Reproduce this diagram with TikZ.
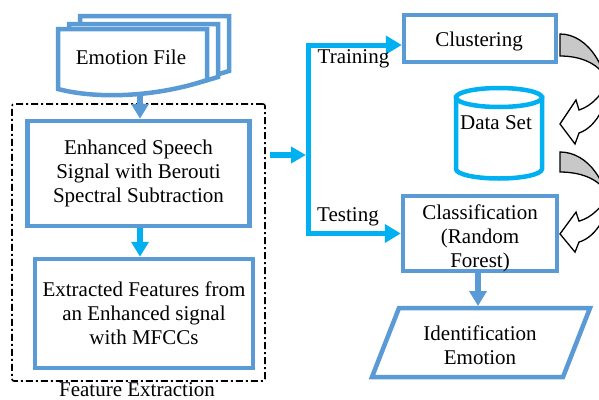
\documentclass[tikz,border=0pt]{standalone}
\usepackage{fontspec}
\setmainfont{Liberation Serif}
\usetikzlibrary{arrows.meta}
\definecolor{boxblue}{HTML}{5B9BD5}
\definecolor{linecyan}{HTML}{00B0F0}
\definecolor{bandgray}{HTML}{C8C8C8}
\tikzset{
  % curved arrow: grey back band leaving the upper box, white front band with head pointing left
  curvedarrow/.pic={
    \draw[band, fill=bandgray] (0,0) .. controls (28,0) and (50,34) .. (50,76)
      -- (46,44) .. controls (38,29) and (20,22) .. (0,22) -- cycle;
    \draw[band, fill=white] (50,46) .. controls (42,60) and (32,72) .. (19,76)
      -- (16,66) -- (0,90) -- (15,110) -- (19,99)
      .. controls (28,96) and (36,88) .. (42,76) -- cycle;
  }
}
\begin{document}
\begin{tikzpicture}[x=1pt,y=-1pt,
  every node/.style={font=\fontsize{21}{24}\selectfont},
  outline/.style={draw=boxblue,line width=4.5pt},
  box/.style={outline,fill=white,inner sep=0pt,align=center},
  txt/.style={inner sep=0pt,align=center},
  flow/.style={line width=6pt,-{Triangle[width=17pt,length=15pt]}},
  feed/.style={line width=5pt,draw=linecyan,line join=miter,-{Triangle[width=18pt,length=16pt]}},
  group/.style={draw=black,line width=1.6pt,dash pattern=on 7pt off 3pt on 2pt off 3pt,rounded corners=2pt},
  tank/.style={draw=linecyan,line width=4.5pt},
  band/.style={draw=black,line width=1.3pt,line join=miter}]

\useasboundingbox (0,0) rectangle (599,399);
\fill[white] (0,0) rectangle (599,399);

% feature extraction group
\node[group, minimum width=253pt, minimum height=277pt] (frame) at (138.5,242.5) {};
\node[txt, anchor=base] (grouptitle) at (137,396) {Feature Extraction};

% stacked documents
\draw[outline, fill=white] (80,16) -- (229,16) -- (229,71) .. controls (182,86) and (122,88) .. (80,77) -- cycle;
\draw[outline, fill=white] (69,24) -- (218,24) -- (218,77) .. controls (171,92) and (111,95) .. (69,84) -- cycle;
\draw[outline, fill=white] (58,29) -- (207,29) -- (207,80) .. controls (160,96) and (100,100) .. (58,89) -- cycle;
\node[txt, anchor=base] (doc) at (131,64) {Emotion File};
\coordinate (docbottom) at (140,95);

% processing boxes
\node[box, minimum width=222pt, minimum height=105pt] (enh) at (138.5,173.5)
  {Enhanced Speech\\Signal with Berouti\\Spectral Subtraction};
\node[box, minimum width=218pt, minimum height=109pt] (ext) at (144,313.5)
  {Extracted Features from\\an Enhanced signal\\with MFCCs};

\node[box, minimum width=152pt, minimum height=47pt] (clu) at (480,38.5) {};
\node[txt, anchor=base] (clutext) at (479,46.7) {Clustering};

\node[box, minimum width=154pt, minimum height=75pt] (cla) at (480,233.5) {};
\node[txt] (clatext) at (480,238.5) {Classification\\(Random\\Forest)};

% data store
\draw[tank, fill=white] (456,97.5) -- (456,169)
  arc[start angle=180,end angle=360,x radius=43pt,y radius=9.5pt] -- (542,97.5) -- cycle;
\draw[tank, fill=white] (499,97.5) ellipse[x radius=43pt,y radius=9.5pt];
\node[txt, anchor=base] (dataset) at (496,129) {Data Set};

% output
\coordinate (p1) at (399,308);
\coordinate (p2) at (590,308);
\coordinate (p3) at (563,377);
\coordinate (p4) at (372,377);
\draw[outline, fill=white, line join=miter] (p1) -- (p2) -- (p3) -- (p4) -- cycle;
\node[txt] (ident) at (480,345) {Identification\\Emotion};

% connectors
\draw[flow, boxblue] (docbottom) -- (docbottom |- enh.north);
\draw[flow, linecyan] ([xshift=1.5pt]enh.south) -- ([xshift=1.5pt]enh.south |- ext.north);
\draw[flow, boxblue, shorten >=2pt] ([xshift=-2pt]cla.south) -- ([xshift=-2pt]cla.south |- p1);

\coordinate (split) at (308,155);
\draw[feed, line width=6pt, -{Triangle[width=16pt,length=15pt]}, shorten <=4pt, shorten >=2pt]
  (frame.east |- split) -- (split);
\draw[feed] (split) |- ([yshift=-6.5pt]clu.west);
\draw[feed] (split) |- (cla.west);
\node[txt, anchor=base] (training) at (353.5,63) {Training};
\node[txt, anchor=base] (testing) at (348,221.5) {Testing};

% feedback arrows
\begin{scope}
  \clip (0,0) rectangle (599,399);
  \pic at (560,34) {curvedarrow};
  \pic[yscale=0.91] at (560,152) {curvedarrow};
\end{scope}
\end{tikzpicture}
\end{document}
